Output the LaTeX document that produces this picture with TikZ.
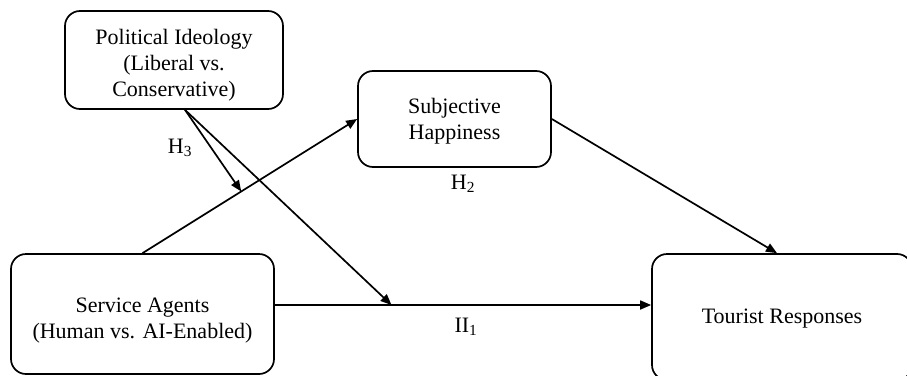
\documentclass[tikz,border=0pt]{standalone}
\usepackage{fontspec}
\setmainfont{Liberation Serif}
\usetikzlibrary{arrows.meta,calc}
\newcommand\boxtxt[2]{\raisebox{#1}[0pt][0pt]{\begin{tabular}{@{}c@{}}#2\end{tabular}}}
\begin{document}
\begin{tikzpicture}[x=1pt,y=-1pt,
  box/.style={draw,rounded corners=15pt,line width=1.7pt,inner sep=0pt,
    font=\fontsize{22}{26}\selectfont},
  conn/.style={line width=1.7pt,-{Triangle[length=11pt,width=9pt]}},
  lbl/.style={font=\fontsize{22}{26}\selectfont,inner sep=0pt}]
\useasboundingbox (0,0) rectangle (907,375);
\node[box,minimum width=218pt,minimum height=98pt] (pol) at (174,60)
  {\boxtxt{-10.3pt}{Political Ideology\\(Liberal vs.\\Conservative)}};
\node[box,minimum width=193pt,minimum height=96pt] (sh) at (454.5,119)
  {\boxtxt{-7.3pt}{Subjective\\Happiness}};
\node[box,minimum width=263pt,minimum height=120pt] (sa) at (142.5,314)
  {\boxtxt{-11.3pt}{Service Agents\\(Human vs. AI-Enabled)}};
\node[box,minimum width=260pt,minimum height=126pt] (tr) at (782,317)
  {\boxtxt{-6.3pt}{Tourist Responses}};
\coordinate (sae) at ([yshift=9pt]sa.east);
\coordinate (trw) at (sae -| tr.west);
\draw[conn] (sa.north) -- (sh.west);
\draw[conn] (sae) -- (trw);
\draw[conn] (sh.east) -- ([xshift=-5pt]tr.north);
\coordinate (m1) at ($(sa.north)!0.46!(sh.west)$);
\coordinate (m2) at ($(sae)!0.31!(trw)$);
\draw[conn] ([xshift=11pt]pol.south) -- (m1);
\draw[conn] ([xshift=11pt]pol.south) -- (m2);
\node[lbl] (h3) at (180,148) {H\textsubscript{3}};
\node[lbl] (h2) at (463,184) {H\textsubscript{2}};
\node[lbl] (h1) at (466,327) {II\textsubscript{1}};
\end{tikzpicture}
\end{document}
